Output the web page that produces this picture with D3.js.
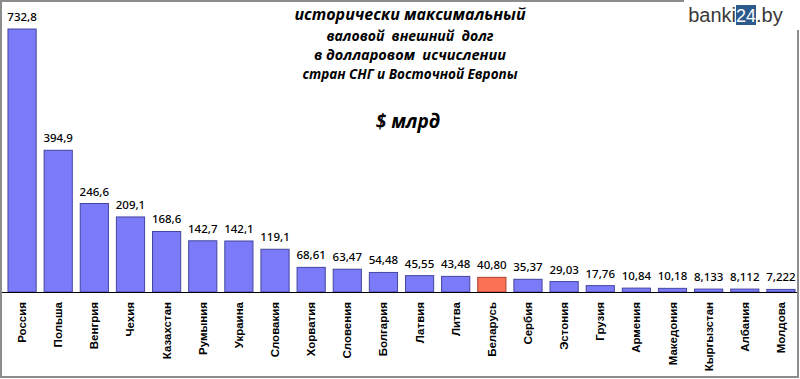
<!DOCTYPE html>
<html><head><meta charset="utf-8">
<script src="https://cdn.jsdelivr.net/npm/d3@7"></script>
<style>body{margin:0;background:#fff}svg{display:block}</style>
</head><body>
<script>
const categories = ["Россия","Польша","Венгрия","Чехия","Казахстан","Румыния","Украина","Словакия","Хорватия","Словения","Болгария","Латвия","Литва","Беларусь","Сербия","Эстония","Грузия","Армения","Македония","Кыргызстан","Албания","Молдова"];
const values = [732.8,394.9,246.6,209.1,168.6,142.7,142.1,119.1,68.61,63.47,54.48,45.55,43.48,40.80,35.37,29.03,17.76,10.84,10.18,8.133,8.112,7.222];
const valueLabels = ["732,8","394,9","246,6","209,1","168,6","142,7","142,1","119,1","68,61","63,47","54,48","45,55","43,48","40,80","35,37","29,03","17,76","10,84","10,18","8,133","8,112","7,222"];
const highlight = "Беларусь";
const titleLines = ["исторически максимальный","валовой  внешний  долг","в долларовом  исчислении","стран СНГ и Восточной Европы"];
const unitLabel = "$ млрд";

const W = 800, H = 379;
const svg = d3.select("body").append("svg").attr("width", W).attr("height", H);

svg.append("rect").attr("x",1).attr("y",1).attr("width",797).attr("height",376)
  .attr("fill","#fff").attr("stroke","#8c8c8c").attr("stroke-width",2);

const x = d3.scaleBand().domain(categories).range([4, 799]).paddingInner(0.22).paddingOuter(0.11);
const y = d3.scaleLinear().domain([0, 800]).range([292, 4.9]);

svg.selectAll("rect.bar").data(categories).join("rect").attr("class","bar")
  .attr("x", d => x(d)).attr("width", x.bandwidth())
  .attr("y", (d,i) => y(values[i])).attr("height", (d,i) => y(0) - y(values[i]))
  .attr("fill", d => d === highlight ? "#fb7356" : "#7b7bf9")
  .attr("stroke", d => d === highlight ? "#a8402a" : "#4545a0").attr("stroke-width",1);

svg.selectAll("text.val").data(categories).join("text").attr("class","val")
  .attr("x", d => x(d) + x.bandwidth()/2).attr("y", (d,i) => y(values[i]) - 8)
  .attr("text-anchor","middle").attr("font-family","Noto Sans, sans-serif").attr("font-size",11.5)
  .attr("font-weight",500).attr("fill","#000").text((d,i) => valueLabels[i]);

const axis = d3.axisBottom(x).tickSize(0).tickPadding(0);
const ag = svg.append("g").attr("transform","translate(0,292)").call(axis);
ag.select(".domain").remove();
svg.append("line").attr("x1",2).attr("x2",797).attr("y1",292.5).attr("y2",292.5).attr("stroke","#000").attr("stroke-width",1);
ag.selectAll(".tick text")
  .attr("transform","translate(4,10) rotate(-90)")
  .attr("x",0).attr("y",0).attr("dy",0)
  .attr("text-anchor","end")
  .attr("font-family","Liberation Sans, Arial, sans-serif").attr("font-weight","bold").attr("font-size",11.5)
  .attr("fill","#000");

const tf = "Open Sans, sans-serif";
const tSizes = [16,14,14.5,13.5];
const tY = [20,41,60,79];
titleLines.forEach((t,i) => {
  svg.append("text").attr("x",410).attr("y",tY[i]).attr("text-anchor","middle")
    .attr("font-family",tf).attr("font-style","italic").attr("font-weight","bold")
    .attr("font-size",tSizes[i]).attr("fill","#000").style("white-space","pre").text(t);
});
svg.append("text").attr("x",408).attr("y",128).attr("text-anchor","middle")
  .attr("font-family",tf).attr("font-style","italic").attr("font-weight","bold")
  .attr("font-size",19).attr("fill","#000").text(unitLabel);

// watermark
const wm = svg.append("g");
wm.append("rect").attr("x",684).attr("y",0).attr("width",116).attr("height",30).attr("fill","#fff");
wm.append("text").attr("x",736).attr("y",22).attr("text-anchor","end")
  .attr("font-family","Liberation Sans, Arial, sans-serif").attr("font-size",20).attr("fill","#3a3a3a").text("banki");
wm.append("rect").attr("x",736).attr("y",5).attr("width",20).attr("height",20).attr("fill","#2c5a8c");
wm.append("text").attr("x",746).attr("y",22).attr("text-anchor","middle")
  .attr("font-family","Liberation Sans, Arial, sans-serif").attr("font-size",18).attr("fill","#fff").text("24");
wm.append("text").attr("x",756).attr("y",22)
  .attr("font-family","Liberation Sans, Arial, sans-serif").attr("font-size",20).attr("fill","#3a3a3a").text(".by");
</script>
</body></html>
